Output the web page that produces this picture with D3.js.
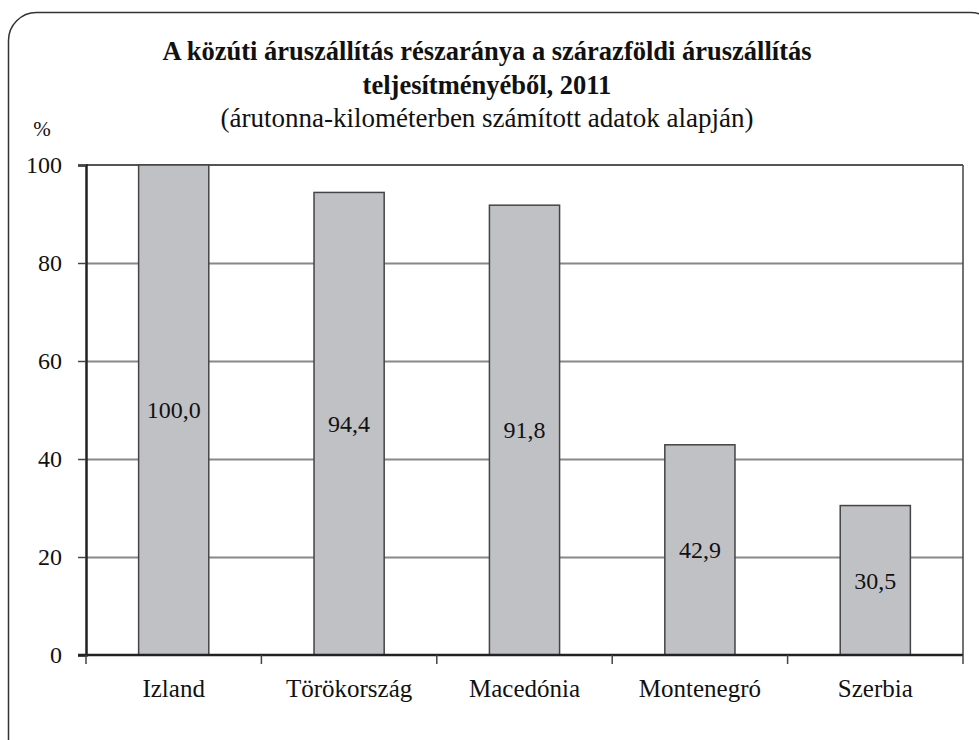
<!DOCTYPE html>
<html>
<head>
<meta charset="utf-8">
<script src="https://cdn.jsdelivr.net/npm/d3@7"></script>
<style>
  body { margin: 0; background: #fff; }
  svg text { font-family: "Liberation Serif", "Times New Roman", serif !important; fill: #111; }
  .grid line { stroke: #888; stroke-width: 2; }
  .grid .domain { display: none; }
</style>
</head>
<body>
<div id="chart"></div>
<script>
// data
const countries = ["Izland", "Törökország", "Macedónia", "Montenegró", "Szerbia"];
const shares = [100.0, 94.4, 91.8, 42.9, 30.5];
const yTicks = [0, 20, 40, 60, 80, 100];

const W = 979, H = 740;
const margin = {top: 165, right: 16, bottom: 85, left: 86};
const width = W - margin.left - margin.right;
const height = H - margin.top - margin.bottom;

const root = d3.select("#chart")
  .append("svg")
    .attr("width", W)
    .attr("height", H);

// rounded frame
root.append("rect")
    .attr("x", 8.5).attr("y", 12.5)
    .attr("width", 990).attr("height", 760)
    .attr("rx", 28)
    .attr("fill", "none")
    .attr("stroke", "#333")
    .attr("stroke-width", 1.5);

// titles
root.append("text")
    .attr("x", 487).attr("y", 60)
    .attr("text-anchor", "middle")
    .style("font-weight", "bold").style("font-size", "26.5px")
    .text("A közúti áruszállítás részaránya a szárazföldi áruszállítás");
root.append("text")
    .attr("x", 487).attr("y", 94)
    .attr("text-anchor", "middle")
    .style("font-weight", "bold").style("font-size", "26.5px")
    .text("teljesítményéből, 2011");
root.append("text")
    .attr("x", 487).attr("y", 127)
    .attr("text-anchor", "middle")
    .style("font-size", "27px")
    .text("(árutonna-kilométerben számított adatok alapján)");

root.append("text")
    .attr("x", 42).attr("y", 136)
    .attr("text-anchor", "middle")
    .style("font-size", "21px")
    .text("%");

const svg = root.append("g")
    .attr("transform", "translate(" + margin.left + "," + margin.top + ")");

// scales
const xScale = d3.scaleBand()
  .domain(countries)
  .range([0, width])
  .paddingInner(0.6)
  .paddingOuter(0.3);

const yScale = d3.scaleLinear()
  .domain([0, 100])
  .range([height, 0]);

// horizontal grid
svg.append("g")
    .attr("class", "grid")
  .call(d3.axisLeft(yScale).tickValues(yTicks.slice(1, -1)).tickSize(-width).tickFormat(""));

// top and right border
svg.append("line")
    .attr("x1", 0).attr("x2", width)
    .attr("y1", yScale(100)).attr("y2", yScale(100))
    .attr("stroke", "#555").attr("stroke-width", 2);
svg.append("line")
    .attr("x1", width).attr("x2", width)
    .attr("y1", 0).attr("y2", height)
    .attr("stroke", "#444").attr("stroke-width", 1.5);

// bars
const bars = svg.selectAll(".bar")
  .data(shares)
  .enter()
  .append("g");

bars.append("rect")
    .attr("x", (d, i) => xScale(countries[i]))
    .attr("y", d => yScale(d))
    .attr("width", xScale.bandwidth())
    .attr("height", d => height - yScale(d))
    .attr("fill", "#c0c1c5")
    .attr("stroke", "#444")
    .attr("stroke-width", 1.5);

bars.append("text")
    .attr("x", (d, i) => xScale(countries[i]) + xScale.bandwidth() / 2)
    .attr("y", d => (yScale(d) + height) / 2)
    .attr("dy", "0.35em")
    .attr("text-anchor", "middle")
    .style("font-size", "24px")
    .text(d => d.toFixed(1).replace(".", ","));

// y axis
svg.append("g")
  .call(d3.axisLeft(yScale).tickValues(yTicks).tickSize(8).tickPadding(16))
  .call(g => g.select(".domain").attr("stroke", "#222").attr("stroke-width", 2.5))
  .call(g => g.selectAll(".tick line").attr("stroke", "#444").attr("stroke-width", 1.5))
  .call(g => g.selectAll(".tick text").style("font-size", "24px").attr("fill", "#111"));

// x axis with ticks at category boundaries
const step = width / countries.length;
const xAxis = svg.append("g")
    .attr("transform", "translate(0," + height + ")");
xAxis.append("line")
    .attr("x1", -8).attr("x2", width)
    .attr("stroke", "#222").attr("stroke-width", 2.5);
xAxis.selectAll(".xt")
  .data(d3.range(countries.length + 1))
  .enter().append("line")
    .attr("x1", d => d * step).attr("x2", d => d * step)
    .attr("y1", 0).attr("y2", 9)
    .attr("stroke", "#444").attr("stroke-width", 1.5);
xAxis.selectAll(".xl")
  .data(countries)
  .enter().append("text")
    .attr("x", d => xScale(d) + xScale.bandwidth() / 2)
    .attr("y", 42)
    .attr("text-anchor", "middle")
    .style("font-size", "25px")
    .text(d => d);
</script>
</body>
</html>
